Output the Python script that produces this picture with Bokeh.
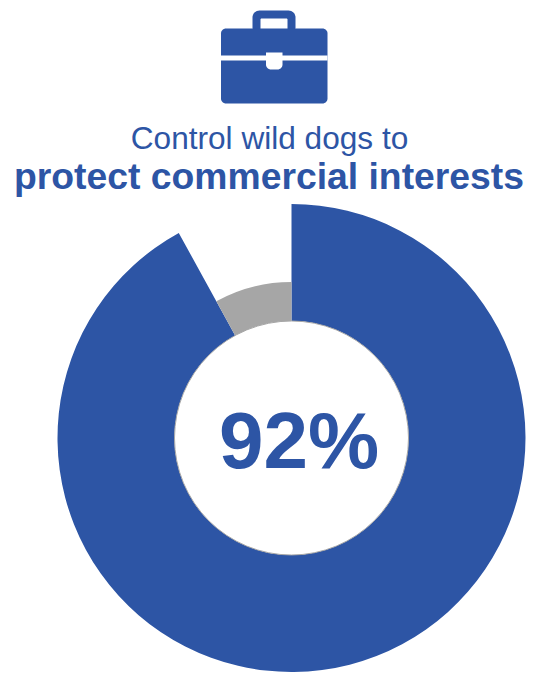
import math
from bokeh.plotting import figure
from bokeh.models import ColumnDataSource, Range1d
from bokeh.core.properties import value
from bokeh.embed import file_html
from bokeh.resources import INLINE

# data
categories = ["Control wild dogs", "Other"]
shares = [92, 8]
center_label = "92%"
title_lines = ["Control wild dogs to", "protect commercial interests"]
BLUE = "#2d55a5"
GREY = "#a6a6a6"

W, H = 538, 678
p = figure(width=W, height=H, output_backend="svg", toolbar_location=None,
           x_range=Range1d(0, W), y_range=Range1d(H, 0),
           min_border=0, outline_line_color=None)
p.axis.visible = False
p.grid.visible = False
p.background_fill_color = "white"
p.border_fill_color = "white"

cx, cy = 291, 437.5
R_in, R_blue, R_grey = 117, 234, 156

# Wedge angles stay counter-clockwise on screen: 12 o'clock is pi/2, clockwise subtracts.
def a(frac):
    return math.pi / 2 - 2 * math.pi * frac

total = sum(shares)
f0 = shares[0] / total
src = ColumnDataSource(dict(
    x=[cx, cx], y=[cy, cy], inner=[R_in, R_in], outer=[R_blue, R_grey],
    start=[a(0), a(f0)], end=[a(f0), a(1)], color=[BLUE, GREY], name=categories))
p.annular_wedge(x="x", y="y", inner_radius="inner", outer_radius="outer",
                start_angle="start", end_angle="end", fill_color="color",
                line_color=None, source=src, direction="clock")
p.circle(x=[cx], y=[cy], radius=R_in, fill_color="white", line_color=GREY, line_width=1)


def rrect(x0, y0, x1, y1, rt, rb=None):
    rb = rt if rb is None else rb
    pts = []
    for (ccx, ccy, rad, a0) in [(x1 - rt, y0 + rt, rt, -90), (x1 - rb, y1 - rb, rb, 0),
                                (x0 + rb, y1 - rb, rb, 90), (x0 + rt, y0 + rt, rt, 180)]:
        for i in range(9):
            t = math.radians(a0 + i * 90 / 8)
            pts.append((ccx + rad * math.cos(t), ccy + rad * math.sin(t)))
    return [q[0] for q in pts], [q[1] for q in pts]

# briefcase icon
for (args, col) in [((252, 10, 295, 34, 7), BLUE),
                    ((260, 18, 287, 34, 1), "white"),
                    ((220.5, 28, 327, 103, 5), BLUE),
                    ((220.5, 55, 327, 60, 0.01), "white"),
                    ((265.5, 52, 282, 69, 0.01, 5), "white")]:
    xs, ys = rrect(*args)
    p.patch(xs, ys, fill_color=col, line_color=None)

p.text(x=[269], y=[137], text=[title_lines[0]], text_font=value("Liberation Sans"),
       text_font_size="31.6px", text_color=BLUE, text_align="center", text_baseline="middle")
p.text(x=[268.5], y=[175], text=[title_lines[1]], text_font=value("Liberation Sans"),
       text_font_style="bold", text_font_size="37.3px", text_color=BLUE,
       text_align="center", text_baseline="middle")
p.text(x=[298.5], y=[440], text=[center_label], text_font=value("Liberation Sans"),
       text_font_style="bold", text_font_size="80px", text_color=BLUE,
       text_align="center", text_baseline="middle")

open("out.html", "w").write(file_html(p, INLINE))
